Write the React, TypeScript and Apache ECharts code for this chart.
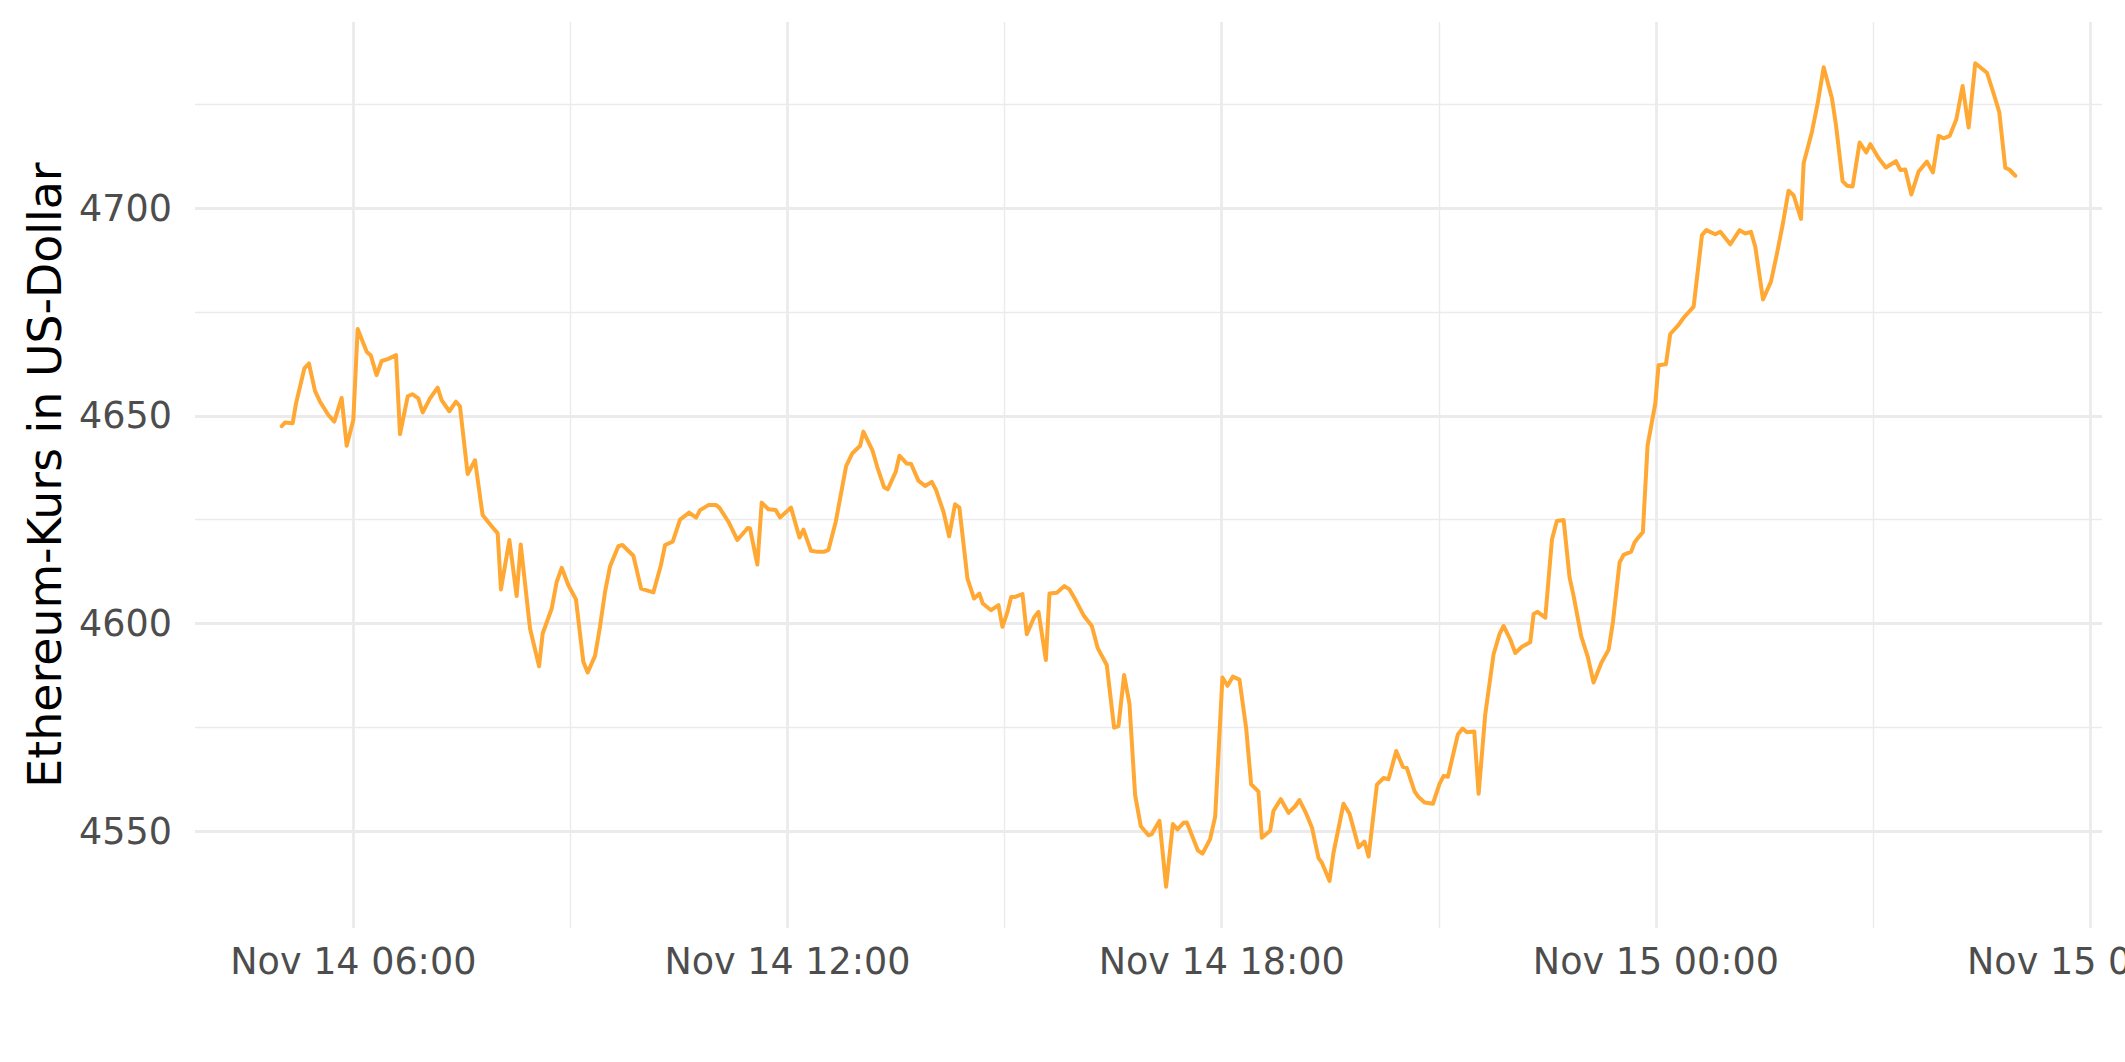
import React, { useEffect, useRef } from "react";
import * as echarts from "echarts";

// Minutes after Nov 14 05:00 (start ~05:00:37) and Ethereum price in USD
const minutes: number[] = [
  0, 2.7, 9.1, 11.9, 18.8, 22.6, 27.6, 31.8, 38.7, 43.6, 49.7, 53.9, 59.4, 63.0, 70.5, 73.8, 78.7, 82.9, 88.4, 94.8,
  98.1, 104.5, 108.3, 113.3, 116.9, 123.0, 129.3, 132.6, 139.0, 144.5, 147.8, 154.2, 160.3, 166.6, 172.7, 179.1, 181.8, 188.8, 194.8, 198.2,
  205.9, 213.4, 216.4, 223.9, 228.0, 232.2, 237.7, 244.0, 250.1, 253.7, 259.8, 263.9, 268.1, 272.2, 279.1, 282.5,
  291.6, 298.0, 308.2, 314.3, 317.9, 324.2, 330.3, 337.8, 343.6, 346.9, 353.8, 360.2, 362.9, 370.4, 377.8, 386.4, 388.3, 394.4, 398.0, 403.6,
  409.6, 413.2, 422.3, 429.3, 432.6, 438.9, 443.6, 450.0, 453.3, 459.4, 468.0, 473.2, 479.6, 482.3, 489.8, 493.9, 499.5, 502.5, 509.1, 512.2,
  518.3, 521.9, 527.9, 533.5, 539.0, 542.6, 548.7, 553.4, 558.3, 561.9,
  568.6, 574.1, 578.5, 581.3, 588.2, 594.3, 597.6, 601.8, 604.8, 608.1, 614.2, 617.8, 623.9, 627.5, 633.6, 636.6, 642.7, 649.0, 653.2, 658.7,
  664.8, 671.7, 676.7, 684.1, 690.2, 693.8, 698.5, 702.9, 707.6, 712.3, 718.7, 721.4, 727.8, 733.3, 738.9, 742.7, 747.7, 750.5, 759.6, 763.5,
  769.8, 774.0, 780.0, 784.2, 788.6, 794.1, 799.7, 803.8, 809.9, 812.7, 819.6, 822.3, 828.4, 834.8, 840.3, 843.9,
  849.5, 854.2, 859.7, 862.5, 868.8, 872.1, 880.4, 885.4, 892.9, 897.8, 901.2, 908.1, 913.6, 917.7, 924.1, 929.6, 932.9, 939.3, 942.6, 947.6,
  954.5, 960.0, 963.4, 967.0, 975.2, 979.1, 982.7, 988.8, 992.4, 997.9, 1004.8, 1009.8, 1013.1, 1018.6, 1022.8, 1028.3, 1035.2, 1038.0, 1041.3, 1047.7,
  1053.2, 1057.3, 1062.9, 1067.8, 1071.2, 1077.5, 1083.0, 1087.7, 1094.1, 1100.2, 1103.8, 1109.3, 1112.6, 1118.9, 1121.7, 1124.5, 1128.6,
  1132.5, 1138.9, 1141.6, 1147.7, 1151.3, 1158.2, 1162.4, 1170.7, 1177.6, 1181.2, 1188.6, 1192.8, 1201.1, 1208.8, 1213.5, 1218.2, 1221.8, 1228.2, 1234.8, 1239.8,
  1244.7, 1249.4, 1253.6, 1259.7, 1261.9, 1268.8, 1273.5, 1278.5, 1285.4, 1288.7, 1294.2, 1297.8, 1302.5, 1308.3, 1313.8, 1317.2, 1324.1, 1330.1, 1338.4, 1342.0,
  1346.2, 1351.2, 1357.2, 1364.1, 1369.1, 1373.8, 1378.0, 1383.0, 1388.5, 1393.7, 1398.7, 1404.2, 1413.9, 1419.4, 1424.1, 1429.1, 1432.4, 1437.4,
];

const prices: number[] = [
  4647.5, 4648.4, 4648.2, 4653.0, 4661.4, 4662.6, 4656.0, 4653.4, 4650.2, 4648.6, 4654.3, 4642.8, 4649.0, 4670.9, 4665.4, 4664.6, 4659.8, 4663.2, 4663.7, 4664.6,
  4645.6, 4654.7, 4655.2, 4654.2, 4650.8, 4654.2, 4656.8, 4653.8, 4651.1, 4653.4, 4652.3, 4636.0, 4639.3, 4626.1, 4623.9, 4621.7, 4608.2, 4620.1, 4606.6, 4619.0,
  4598.8, 4589.7, 4597.6, 4603.6, 4610.0, 4613.4, 4609.2, 4605.8, 4590.8, 4588.2, 4592.2, 4599.2, 4607.6, 4613.7, 4618.6, 4618.9,
  4616.3, 4608.4, 4607.5, 4613.9, 4618.9, 4619.7, 4625.0, 4626.7, 4625.5, 4627.3, 4628.5, 4628.5, 4627.9, 4624.5, 4620.1, 4623.0, 4622.9, 4614.2, 4629.1, 4627.5,
  4627.3, 4625.5, 4627.9, 4620.7, 4622.6, 4617.5, 4617.3, 4617.3, 4617.7, 4624.5, 4637.9, 4641.0, 4642.8, 4646.2, 4641.7, 4637.6, 4632.8, 4632.3, 4636.5, 4640.4,
  4638.5, 4638.4, 4634.4, 4633.1, 4634.1, 4632.1, 4626.9, 4621.0, 4628.7, 4627.9,
  4610.8, 4606.0, 4607.2, 4604.8, 4603.2, 4604.4, 4599.2, 4602.8, 4606.4, 4606.4, 4607.1, 4597.4, 4601.5, 4602.8, 4591.2, 4607.2, 4607.4, 4609.0, 4608.2, 4605.4,
  4602.0, 4599.4, 4594.0, 4590.0, 4574.9, 4575.3, 4587.6, 4580.7, 4558.7, 4551.2, 4549.0, 4549.3, 4552.5, 4536.6, 4551.7, 4550.4, 4552.0, 4552.1, 4545.4, 4544.6,
  4548.1, 4553.5, 4587.0, 4585.0, 4587.2, 4586.5, 4574.7, 4561.3, 4559.5, 4548.4, 4550.1, 4554.9, 4557.7, 4554.4, 4556.0, 4557.5,
  4554.2, 4550.9, 4543.5, 4542.4, 4538.0, 4544.8, 4556.6, 4554.2, 4546.1, 4547.5, 4543.9, 4561.2, 4562.8, 4562.5, 4569.3, 4565.5, 4565.2, 4559.6, 4558.2, 4556.9,
  4556.6, 4561.4, 4563.3, 4563.1, 4573.3, 4574.7, 4573.8, 4574.0, 4559.0, 4578.1, 4592.6, 4597.5, 4599.4, 4596.2, 4592.9, 4594.4, 4595.5, 4602.3, 4602.8, 4601.4,
  4620.2, 4624.7, 4624.9, 4611.1, 4606.6, 4596.9, 4591.9, 4585.8, 4590.5, 4593.7, 4600.4, 4614.7, 4616.5, 4617.3, 4619.5, 4620.6, 4622.0,
  4642.9, 4653.0, 4662.2, 4662.4, 4669.7, 4671.9, 4673.6, 4676.3, 4693.5, 4694.7, 4693.7, 4694.3, 4691.3, 4694.7, 4693.9, 4694.3, 4690.7, 4678.0, 4682.3, 4689.1,
  4696.3, 4704.2, 4703.1, 4697.4, 4710.8, 4718.4, 4725.2, 4733.9, 4726.4, 4720.0, 4706.5, 4705.4, 4705.2, 4715.8, 4713.4, 4715.4, 4712.0, 4709.8, 4711.3, 4709.2,
  4709.3, 4703.3, 4708.8, 4711.2, 4708.6, 4717.4, 4716.8, 4717.4, 4721.4, 4729.4, 4719.4, 4734.9, 4732.6, 4727.6, 4723.1, 4709.7, 4709.3, 4707.8,
];

const START_HOUR = 5.01; // hours after Nov 14 00:00
const xMajorHours: number[] = [6, 12, 18, 24, 30];
const xMinorHours: number[] = [9, 15, 21, 27];
const yMajor: number[] = [4550, 4600, 4650, 4700];
const yMinor: number[] = [4575, 4625, 4675, 4725];
const yTitle = "Ethereum-Kurs in US-Dollar";

const FONT = "DejaVu Sans";
const LINE_COLOR = "#FFA834";
const GRID_COLOR = "#EBEBEB";

function hourLabel(h: number): string {
  const day = h < 24 ? 14 : 15;
  const hh = Math.round(h % 24);
  return `Nov ${day} ${String(hh).padStart(2, "0")}:00`;
}

export default function App() {
  const ref = useRef<HTMLDivElement>(null);

  useEffect(() => {
    if (!ref.current) return;
    const chart = echarts.init(ref.current, undefined, { renderer: "svg" });

    const xs = minutes.map((m) => START_HOUR + m / 60);
    const data = xs.map((x, i) => [x, prices[i]]);
    const xMin0 = Math.min(...xs);
    const xMax0 = Math.max(...xs);
    const yMin0 = Math.min(...prices);
    const yMax0 = Math.max(...prices);
    const xPad = (xMax0 - xMin0) * 0.05;
    const yPad = (yMax0 - yMin0) * 0.05;
    const xMin = xMin0 - xPad;
    const xMax = xMax0 + xPad;
    const yMin = yMin0 - yPad;
    const yMax = yMax0 + yPad;

    const major = { color: GRID_COLOR, width: 2.8, type: "solid" as const };
    const minor = { color: GRID_COLOR, width: 1.4, type: "solid" as const };

    const gridLines = [
      ...xMinorHours.filter((v) => v > xMin && v < xMax).map((v) => ({ xAxis: v, lineStyle: minor })),
      ...yMinor.filter((v) => v > yMin && v < yMax).map((v) => ({ yAxis: v, lineStyle: minor })),
      ...xMajorHours.filter((v) => v > xMin && v < xMax).map((v) => ({ xAxis: v, lineStyle: major })),
      ...yMajor.filter((v) => v > yMin && v < yMax).map((v) => ({ yAxis: v, lineStyle: major })),
    ];

    chart.setOption({
      animation: false,
      backgroundColor: "#FFFFFF",
      grid: {
        left: 195,
        right: 23,
        top: 22,
        bottom: 134,
        containLabel: false,
        outerBoundsMode: "none",
      },
      xAxis: {
        type: "value",
        min: xMin,
        max: xMax,
        axisLine: { show: false },
        axisTick: { show: false },
        splitLine: { show: false },
        axisLabel: {
          customValues: xMajorHours,
          formatter: (v: number) => hourLabel(v),
          color: "#4D4D4D",
          fontFamily: FONT,
          fontSize: 36.5,
          margin: 15,
          hideOverlap: false,
        },
      },
      yAxis: {
        type: "value",
        min: yMin,
        max: yMax,
        axisLine: { show: false },
        axisTick: { show: false },
        splitLine: { show: false },
        axisLabel: {
          customValues: yMajor,
          formatter: (v: number) => String(v),
          color: "#4D4D4D",
          fontFamily: FONT,
          fontSize: 36.5,
          margin: 23,
        },
        name: yTitle,
        nameLocation: "middle",
        nameGap: 126,
        nameTextStyle: { color: "#000000", fontFamily: FONT, fontSize: 45.8 },
      },
      series: [
        {
          type: "line",
          data: [data[0]],
          z: 1,
          silent: true,
          showSymbol: false,
          symbol: "none",
          lineStyle: { width: 0, opacity: 0 },
          markLine: {
            silent: true,
            z: 1,
            symbol: ["none", "none"],
            label: { show: false },
            emphasis: { disabled: true },
            animation: false,
            data: gridLines,
          },
        },
        {
          type: "line",
          data,
          z: 3,
          showSymbol: false,
          symbol: "none",
          lineStyle: { color: LINE_COLOR, width: 4, cap: "round", join: "round" },
        },
      ],
    });

    return () => chart.dispose();
  }, []);

  return (
    <div
      ref={ref}
      style={{ position: "absolute", left: 0, top: 0, width: "2125px", height: "1062px" }}
    />
  );
}
